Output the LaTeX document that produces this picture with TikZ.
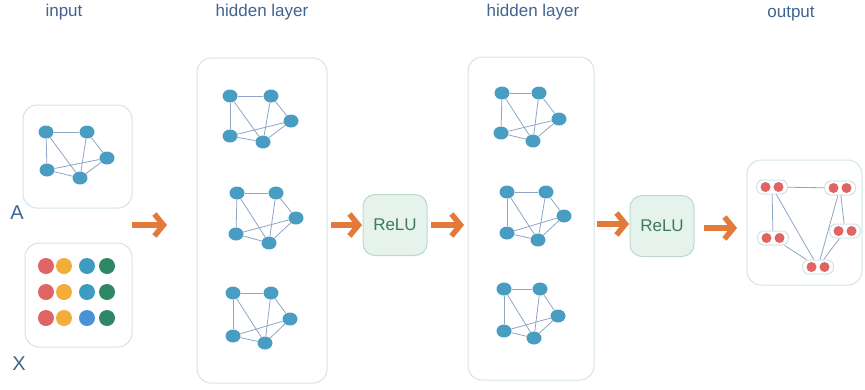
\documentclass[tikz,border=0pt]{standalone}
\usepackage{fontspec}
\setmainfont{Liberation Sans}
\usetikzlibrary{arrows.meta,calc,shapes.geometric}
\definecolor{boxline}{HTML}{D3E4E4}
\definecolor{gnode}{HTML}{4A9DC2}
\definecolor{gedge}{HTML}{8EA6C6}
\definecolor{titlec}{HTML}{3F6491}
\definecolor{arrowc}{HTML}{E27B3A}
\definecolor{relufill}{HTML}{E6F3EC}
\definecolor{reluline}{HTML}{BBD9CB}
\definecolor{relutext}{HTML}{3E7A5E}
\definecolor{dred}{HTML}{E06464}
\definecolor{dorange}{HTML}{F3AE3A}
\definecolor{dteal}{HTML}{3E9CC0}
\definecolor{dgreen}{HTML}{2F8766}
\definecolor{dblue}{HTML}{4A92D8}
\tikzset{
  panel/.style={draw=boxline, line width=1pt, fill=white, rounded corners=14pt},
  gn/.style={ellipse, fill=gnode, minimum width=15pt, minimum height=13pt, inner sep=0pt},
  ge/.style={draw=gedge, line width=0.8pt},
  title/.style={font=\fontsize{17}{19}\selectfont, text=titlec},
  letter/.style={font=\fontsize{20}{22}\selectfont, text=titlec},
  flow/.style={draw=arrowc, line width=5.5pt, -{Straight Barb[length=9pt,width=22pt]}},
  relu/.style={draw=reluline, line width=1pt, fill=relufill, rounded corners=12pt,
    minimum width=64pt, minimum height=61pt, font=\fontsize{17}{19}\selectfont, text=relutext},
  pill/.style={draw=boxline, line width=1pt, fill=white, rounded corners=6.5pt,
    minimum width=31pt, minimum height=14pt, inner sep=0pt},
  dot/.style={circle, minimum size=16pt, inner sep=0pt},
}
\newcommand\smallgraph[6]{%
  \node[gn] (#1a) at (#2) {};
  \node[gn] (#1b) at (#3) {};
  \node[gn] (#1c) at (#4) {};
  \node[gn] (#1d) at (#5) {};
  \node[gn] (#1e) at (#6) {};
  \draw[ge] (#1a) -- (#1b);
  \draw[ge] (#1a) -- (#1d);
  \draw[ge] (#1a) -- (#1e);
  \draw[ge] (#1b) -- (#1e);
  \draw[ge] (#1b) -- (#1c);
  \draw[ge] (#1d) -- (#1c);
  \draw[ge] (#1d) -- (#1e);
  \draw[ge] (#1e) -- (#1c);
}
\newcommand\pillnode[2]{%
  \node[pill] (#1) at (#2) {};
  \fill[dred] ($(#1.center)+(-6.5,0)$) circle (5pt);
  \fill[dred] ($(#1.center)+(6.5,0)$) circle (5pt);
}
\begin{document}
\begin{tikzpicture}[x=1pt,y=-1pt]
\useasboundingbox (0,0) rectangle (865,389);
% titles
\node[title] (tin) at (64,12) {input};
\node[title] (th1) at (262,12) {hidden layer};
\node[title] (th2) at (533,12) {hidden layer};
\node[title] (tout) at (791,14) {output};
\node[letter] (lA) at (17,213) {A};
\node[letter] (lX) at (19,364) {X};
% panels
\draw[panel] (23,105) rectangle (132,208);
\draw[panel] (25,243) rectangle (132,347);
\draw[panel] (197,58) rectangle (327,383);
\draw[panel] (468,57) rectangle (594,380);
\draw[panel] (747,160) rectangle (862,285);
% input graph
\smallgraph{ia}{46,132}{87,132}{107,158}{47,170}{80,178}
% feature dots
\foreach \c/\x in {dred/46,dorange/64,dteal/87,dgreen/107}{
  \node[dot, fill=\c] (r1\x) at (\x,266) {};
  \node[dot, fill=\c] (r2\x) at (\x,292) {};
}
\node[dot, fill=dred] (r3a) at (46,318) {};
\node[dot, fill=dorange] (r3b) at (64,318) {};
\node[dot, fill=dblue] (r3c) at (87,318) {};
\node[dot, fill=dgreen] (r3d) at (107,318) {};
% hidden layer 1
\smallgraph{ha}{230,96}{271,96}{291,121}{230,136}{263,142}
\smallgraph{hb}{237,193}{276,193}{296,218}{236,234}{269,243}
\smallgraph{hc}{233,293}{271,293}{290,319}{233,336}{265,343}
% hidden layer 2
\smallgraph{ka}{502,93}{539,93}{559,119}{501,133}{533,141}
\smallgraph{kb}{507,192}{546,192}{564,216}{507,233}{538,240}
\smallgraph{kc}{504,289}{540,289}{558,316}{504,331}{534,338}
% relu
\node[relu] (relu1) at (395,225) {ReLU};
\node[relu] (relu2) at (662,226) {ReLU};
% arrows
\coordinate (a1s) at (132,225); \coordinate (a1e) at (167,225);
\coordinate (a2s) at (331,225); \coordinate (a2e) at (362,225);
\coordinate (a3s) at (431,225); \coordinate (a3e) at (464,225);
\coordinate (a4s) at (597,224); \coordinate (a4e) at (629,224);
\coordinate (a5s) at (704,228); \coordinate (a5e) at (737,228);
\draw[flow] (a1s) -- (a1e);
\draw[flow] (a2s) -- (a2e);
\draw[flow] (a3s) -- (a3e);
\draw[flow] (a4s) -- (a4e);
\draw[flow] (a5s) -- (a5e);
% output graph
\pillnode{p1}{772,187}
\pillnode{p2}{840,188}
\pillnode{p3}{845,231}
\pillnode{p4}{773,238}
\pillnode{p5}{818,267}
\draw[ge] (p1) -- (p2);
\draw[ge] (p1) -- (p4);
\draw[ge] (p1) -- (p5);
\draw[ge] (p2) -- (p3);
\draw[ge] (p2) -- (p5);
\draw[ge] (p3) -- (p5);
\draw[ge] (p4) -- (p5);
\end{tikzpicture}
\end{document}
